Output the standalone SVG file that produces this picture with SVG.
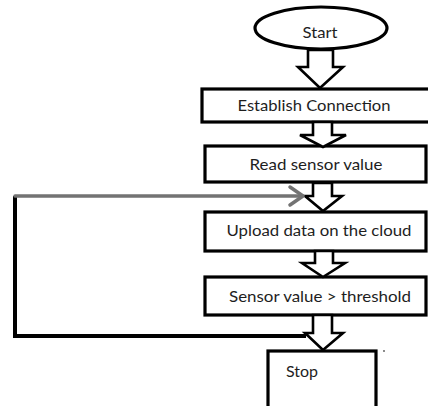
<svg xmlns="http://www.w3.org/2000/svg" width="428" height="406" viewBox="0 0 428 406">
  <style>
    .shape { fill: #ffffff; stroke: #000000; stroke-width: 3.2; }
    .barrow { fill: #ffffff; stroke: #000000; stroke-width: 2.6; stroke-linejoin: miter; }
    .label { font-family: Lato, "Open Sans", "Liberation Sans", sans-serif; font-size: 16px; fill: #1e1e1e; text-anchor: middle; }
    .loop { fill: none; stroke: #000000; stroke-width: 4; stroke-linejoin: miter; }
    .loop-in { fill: none; stroke: #737373; stroke-width: 3.5; stroke-linecap: round; stroke-linejoin: round; }
  </style>
  <rect width="428" height="406" fill="#ffffff"/>

  <!-- flow steps -->
  <g id="start">
    <ellipse class="shape" cx="321" cy="28" rx="66" ry="21"/>
    <text class="label" x="320" y="38" textLength="35" lengthAdjust="spacingAndGlyphs">Start</text>
  </g>
  <g id="establish">
    <rect class="shape" x="202" y="89" width="230" height="33"/>
    <text class="label" x="314" y="111" textLength="153" lengthAdjust="spacingAndGlyphs">Establish Connection</text>
  </g>
  <g id="read">
    <rect class="shape" x="205" y="146" width="221" height="36"/>
    <text class="label" x="316" y="170" textLength="133" lengthAdjust="spacingAndGlyphs">Read sensor value</text>
  </g>
  <g id="upload">
    <rect class="shape" x="205" y="212" width="221" height="39"/>
    <text class="label" x="319" y="236" textLength="185" lengthAdjust="spacingAndGlyphs">Upload data on the cloud</text>
  </g>
  <g id="check">
    <rect class="shape" x="205" y="277" width="221" height="38"/>
    <text class="label" x="320" y="302" textLength="182" lengthAdjust="spacingAndGlyphs">Sensor value &gt; threshold</text>
  </g>
  <g id="stop">
    <rect class="shape" x="268" y="351" width="108" height="62"/>
    <text class="label" x="302" y="377" textLength="32" lengthAdjust="spacingAndGlyphs">Stop</text>
  </g>

  <!-- connectors -->
  <g id="connectors">
    <!-- block arrows between steps -->
    <path class="barrow" d="M308,50 L333,50 L333,67 L343,67 L320,88 L298,67 L308,67 Z"/>
    <path class="barrow" d="M313,122 L332,122 L332,135 L346,135 L323,147 L300,135 L313,135 Z"/>
    <path class="barrow" d="M313,183 L332,183 L332,196 L342,196 L323,211 L305,196 L313,196 Z"/>
    <path class="barrow" d="M315,251 L333,251 L333,263 L345,263 L323,277 L302,263 L315,263 Z"/>
    <path class="barrow" d="M313,315 L332,315 L332,333 L343,333 L323,350 L305,333 L313,333 Z"/>

    <!-- loop back from the threshold check -->
    <path class="loop" d="M306,336 L15,336 L15,196"/>
    <path class="loop-in" d="M15,196 L302,196"/>
    <path class="loop-in" d="M290,187 L303,196 L290,205"/>
  </g>

  <circle cx="384" cy="351" r="0.9" fill="#555555"/>
</svg>
